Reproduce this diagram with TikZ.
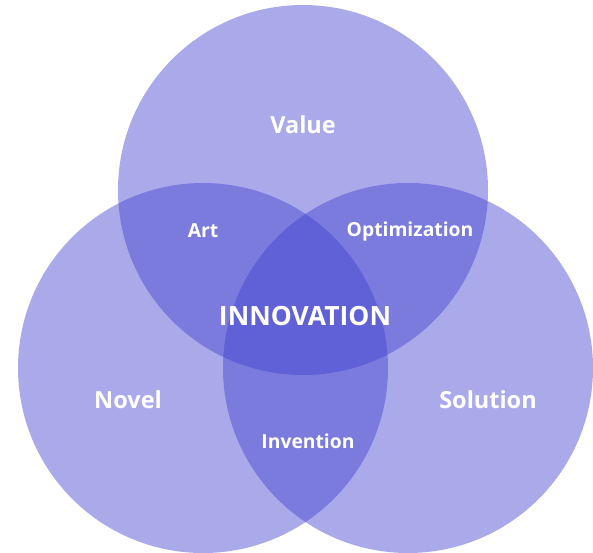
\documentclass[tikz,border=0pt]{standalone}
\usepackage{fontspec}
\setmainfont{Open Sans}
\usepackage{tikz}
\usetikzlibrary{positioning}
\definecolor{setblue}{RGB}{62,62,207}

\begin{document}
\begin{tikzpicture}[x=1pt, y=-1pt,
    set/.style={circle, fill=setblue, fill opacity=0.44, minimum size=370pt, inner sep=0pt},
    lbl/.style={text=white, font=\bfseries\fontsize{23.5}{27}\selectfont},
    sublbl/.style={text=white, font=\bfseries\fontsize{19.3}{22}\selectfont}]
    \useasboundingbox (0,0) rectangle (593,552);

    % the three sets
    \node[set] (value) at (303,190){};
    \node[set] (novel) at (203,368){};
    \node[set] (solution) at (408,368){};

    % one set only
    \node[lbl] (valuetxt) at (303,125){Value};
    \node[lbl] (noveltxt) at (128,400){Novel};
    \node[lbl] (solutiontxt) at (488,400){Solution};

    % two sets
    \node[sublbl] (art) at (203,231){Art};
    \node[sublbl] (optim) at (410,231){Optimization};
    \node[sublbl] (invention) at (308,441){Invention};

    % all three
    \node[text=white, font=\bfseries\fontsize{26.5}{30}\selectfont] (innov) at (305,316){INNOVATION};
\end{tikzpicture}
\end{document}
